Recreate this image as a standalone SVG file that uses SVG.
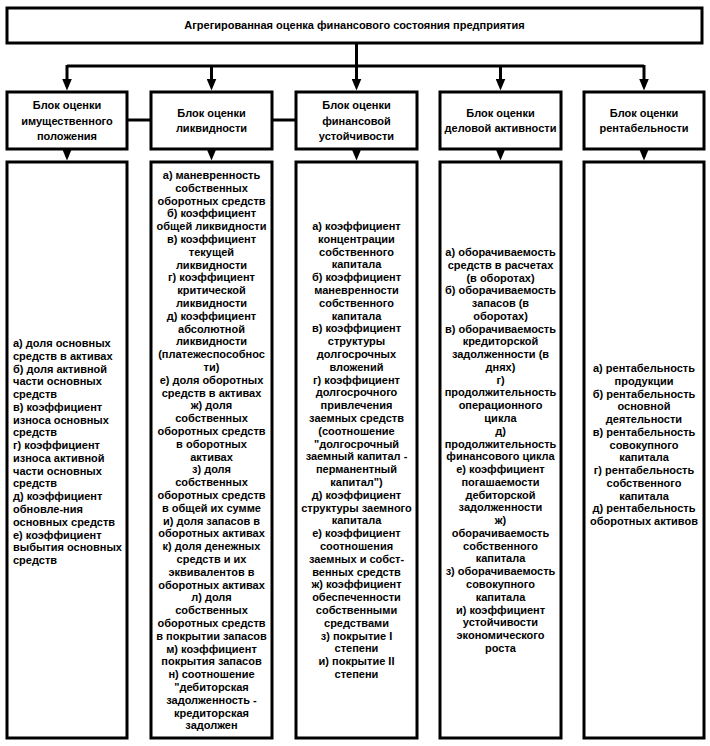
<svg xmlns="http://www.w3.org/2000/svg" width="710" height="746" viewBox="0 0 710 746">
<style>
.box{fill:#fff;stroke:#000;stroke-width:3}
.ln{fill:none;stroke:#000;stroke-width:3}
.t{font-family:"Liberation Sans",Arial,sans-serif;font-weight:bold;fill:#000}
.h{font-size:11px;text-anchor:middle}
.c{font-size:11px;text-anchor:middle}
.l{font-size:11px;text-anchor:start}
</style>
<defs>
<marker id="ah" markerUnits="userSpaceOnUse" viewBox="0 0 12 10" markerWidth="12" markerHeight="10" refX="8" refY="5" orient="auto">
<path d="M0,0 L12,5 L0,10 z" fill="#000"/>
</marker>
</defs>
<rect width="710" height="746" fill="#fff"/>
<g id="connectors">
<line class="ln" x1="356.5" y1="43" x2="356.5" y2="86.5" marker-end="url(#ah)"/>
<line class="ln" x1="67" y1="66" x2="644" y2="66"/>
<line class="ln" x1="67" y1="65" x2="67" y2="86.5" marker-end="url(#ah)"/>
<line class="ln" x1="211.5" y1="65" x2="211.5" y2="86.5" marker-end="url(#ah)"/>
<line class="ln" x1="500.5" y1="65" x2="500.5" y2="86.5" marker-end="url(#ah)"/>
<line class="ln" x1="644" y1="65" x2="644" y2="86.5" marker-end="url(#ah)"/>
<line class="ln" x1="127" y1="120" x2="151" y2="120"/>
<line class="ln" x1="272" y1="120" x2="296" y2="120"/>
<line class="ln" x1="67" y1="150" x2="67" y2="156.5" marker-end="url(#ah)"/>
<line class="ln" x1="211.5" y1="150" x2="211.5" y2="156.5" marker-end="url(#ah)"/>
<line class="ln" x1="356.5" y1="150" x2="356.5" y2="156.5" marker-end="url(#ah)"/>
<line class="ln" x1="500.5" y1="150" x2="500.5" y2="156.5" marker-end="url(#ah)"/>
<line class="ln" x1="644" y1="150" x2="644" y2="156.5" marker-end="url(#ah)"/>
</g>
<g id="top">
<rect class="box" x="7" y="8" width="695" height="35"/>
<text class="t h" x="354.5" y="29" font-size="10.5">Агрегированная оценка финансового состояния предприятия</text>
</g>
<g id="h1">
<rect class="box" x="7" y="92" width="120" height="57"/>
<text class="t h" x="67"><tspan x="67" y="109">Блок оценки</tspan><tspan x="67" y="124.5">имущественного</tspan><tspan x="67" y="140">положения</tspan></text>
</g>
<g id="h2">
<rect class="box" x="151" y="92" width="121" height="57"/>
<text class="t h"><tspan x="211.5" y="116.5">Блок оценки</tspan><tspan x="211.5" y="132">ликвидности</tspan></text>
</g>
<g id="h3">
<rect class="box" x="296" y="92" width="121" height="57"/>
<text class="t h"><tspan x="356.5" y="109">Блок оценки</tspan><tspan x="356.5" y="124.5">финансовой</tspan><tspan x="356.5" y="140">устойчивости</tspan></text>
</g>
<g id="h4">
<rect class="box" x="440" y="92" width="121" height="57"/>
<text class="t h"><tspan x="500.5" y="116.5">Блок оценки</tspan><tspan x="500.5" y="132">деловой активности</tspan></text>
</g>
<g id="h5">
<rect class="box" x="584" y="92" width="120" height="57"/>
<text class="t h"><tspan x="644" y="116.5">Блок оценки</tspan><tspan x="644" y="132">рентабельности</tspan></text>
</g>
<g id="c1">
<rect class="box" x="7" y="162" width="120" height="576"/>
<text class="t l" x="13" y="347"><tspan x="13">а) доля основных</tspan><tspan x="13" dy="12.77">средств в активах</tspan><tspan x="13" dy="12.77">б) доля активной</tspan><tspan x="13" dy="12.77">части основных</tspan><tspan x="13" dy="12.77">средств</tspan><tspan x="13" dy="12.77">в) коэффициент</tspan><tspan x="13" dy="12.77">износа основных</tspan><tspan x="13" dy="12.77">средств</tspan><tspan x="13" dy="12.77">г) коэффициент</tspan><tspan x="13" dy="12.77">износа активной</tspan><tspan x="13" dy="12.77">части основных</tspan><tspan x="13" dy="12.77">средств</tspan><tspan x="13" dy="12.77">д) коэффициент</tspan><tspan x="13" dy="12.77">обновле-ния</tspan><tspan x="13" dy="12.77">основных средств</tspan><tspan x="13" dy="12.77">е) коэффициент</tspan><tspan x="13" dy="12.77">выбытия основных</tspan><tspan x="13" dy="12.77">средств</tspan></text>
</g>
<g id="c2">
<rect class="box" x="151" y="162" width="121" height="576"/>
<text class="t c" x="211.5" y="179"><tspan x="211.5">а) маневренность</tspan><tspan x="211.5" dy="12.8">собственных</tspan><tspan x="211.5" dy="12.8">оборотных средств</tspan><tspan x="211.5" dy="12.8">б) коэффициент</tspan><tspan x="211.5" dy="12.8">общей ликвидности</tspan><tspan x="211.5" dy="12.8">в) коэффициент</tspan><tspan x="211.5" dy="12.8">текущей</tspan><tspan x="211.5" dy="12.8">ликвидности</tspan><tspan x="211.5" dy="12.8">г) коэффициент</tspan><tspan x="211.5" dy="12.8">критической</tspan><tspan x="211.5" dy="12.8">ликвидности</tspan><tspan x="211.5" dy="12.8">д) коэффициент</tspan><tspan x="211.5" dy="12.8">абсолютной</tspan><tspan x="211.5" dy="12.8">ликвидности</tspan><tspan x="211.5" dy="12.8">(платежеспособнос</tspan><tspan x="211.5" dy="12.8">ти)</tspan><tspan x="211.5" dy="12.8">е) доля оборотных</tspan><tspan x="211.5" dy="12.8">средств в активах</tspan><tspan x="211.5" dy="12.8">ж) доля</tspan><tspan x="211.5" dy="12.8">собственных</tspan><tspan x="211.5" dy="12.8">оборотных средств</tspan><tspan x="211.5" dy="12.8">в оборотных</tspan><tspan x="211.5" dy="12.8">активах</tspan><tspan x="211.5" dy="12.8">з) доля</tspan><tspan x="211.5" dy="12.8">собственных</tspan><tspan x="211.5" dy="12.8">оборотных средств</tspan><tspan x="211.5" dy="12.8">в общей их сумме</tspan><tspan x="211.5" dy="12.8">и) доля запасов в</tspan><tspan x="211.5" dy="12.8">оборотных активах</tspan><tspan x="211.5" dy="12.8">к) доля денежных</tspan><tspan x="211.5" dy="12.8">средств и их</tspan><tspan x="211.5" dy="12.8">эквивалентов в</tspan><tspan x="211.5" dy="12.8">оборотных активах</tspan><tspan x="211.5" dy="12.8">л) доля</tspan><tspan x="211.5" dy="12.8">собственных</tspan><tspan x="211.5" dy="12.8">оборотных средств</tspan><tspan x="211.5" dy="12.8">в покрытии запасов</tspan><tspan x="211.5" dy="12.8">м) коэффициент</tspan><tspan x="211.5" dy="12.8">покрытия запасов</tspan><tspan x="211.5" dy="12.8">н) соотношение</tspan><tspan x="211.5" dy="12.8">"дебиторская</tspan><tspan x="211.5" dy="12.8">задолженность -</tspan><tspan x="211.5" dy="12.8">кредиторская</tspan><tspan x="211.5" dy="12.8">задолжен</tspan></text>
</g>
<g id="c3">
<rect class="box" x="296" y="162" width="121" height="576"/>
<text class="t c" x="356.5" y="230"><tspan x="356.5">а) коэффициент</tspan><tspan x="356.5" dy="12.8">концентрации</tspan><tspan x="356.5" dy="12.8">собственного</tspan><tspan x="356.5" dy="12.8">капитала</tspan><tspan x="356.5" dy="12.8">б) коэффициент</tspan><tspan x="356.5" dy="12.8">маневренности</tspan><tspan x="356.5" dy="12.8">собственного</tspan><tspan x="356.5" dy="12.8">капитала</tspan><tspan x="356.5" dy="12.8">в) коэффициент</tspan><tspan x="356.5" dy="12.8">структуры</tspan><tspan x="356.5" dy="12.8">долгосрочных</tspan><tspan x="356.5" dy="12.8">вложений</tspan><tspan x="356.5" dy="12.8">г) коэффициент</tspan><tspan x="356.5" dy="12.8">долгосрочного</tspan><tspan x="356.5" dy="12.8">привлечения</tspan><tspan x="356.5" dy="12.8">заемных средств</tspan><tspan x="356.5" dy="12.8">(соотношение</tspan><tspan x="356.5" dy="12.8">"долгосрочный</tspan><tspan x="356.5" dy="12.8">заемный капитал -</tspan><tspan x="356.5" dy="12.8">перманентный</tspan><tspan x="356.5" dy="12.8">капитал")</tspan><tspan x="356.5" dy="12.8">д) коэффициент</tspan><tspan x="356.5" dy="12.8">структуры заемного</tspan><tspan x="356.5" dy="12.8">капитала</tspan><tspan x="356.5" dy="12.8">е) коэффициент</tspan><tspan x="356.5" dy="12.8">соотношения</tspan><tspan x="356.5" dy="12.8">заемных и собст-</tspan><tspan x="356.5" dy="12.8">венных средств</tspan><tspan x="356.5" dy="12.8">ж) коэффициент</tspan><tspan x="356.5" dy="12.8">обеспеченности</tspan><tspan x="356.5" dy="12.8">собственными</tspan><tspan x="356.5" dy="12.8">средствами</tspan><tspan x="356.5" dy="12.8">з) покрытие I</tspan><tspan x="356.5" dy="12.8">степени</tspan><tspan x="356.5" dy="12.8">и) покрытие II</tspan><tspan x="356.5" dy="12.8">степени</tspan></text>
</g>
<g id="c4">
<rect class="box" x="440" y="162" width="121" height="576"/>
<text class="t c" x="500.5" y="256"><tspan x="500.5">а) оборачиваемость</tspan><tspan x="500.5" dy="12.77">средств в расчетах</tspan><tspan x="500.5" dy="12.77">(в оборотах)</tspan><tspan x="500.5" dy="12.77">б) оборачиваемость</tspan><tspan x="500.5" dy="12.77">запасов (в</tspan><tspan x="500.5" dy="12.77">оборотах)</tspan><tspan x="500.5" dy="12.77">в) оборачиваемость</tspan><tspan x="500.5" dy="12.77">кредиторской</tspan><tspan x="500.5" dy="12.77">задолженности (в</tspan><tspan x="500.5" dy="12.77">днях)</tspan><tspan x="500.5" dy="12.77">г)</tspan><tspan x="500.5" dy="12.77">продолжительность</tspan><tspan x="500.5" dy="12.77">операционного</tspan><tspan x="500.5" dy="12.77">цикла</tspan><tspan x="500.5" dy="12.77">д)</tspan><tspan x="500.5" dy="12.77">продолжительность</tspan><tspan x="500.5" dy="12.77">финансового цикла</tspan><tspan x="500.5" dy="12.77">е) коэффициент</tspan><tspan x="500.5" dy="12.77">погашаемости</tspan><tspan x="500.5" dy="12.77">дебиторской</tspan><tspan x="500.5" dy="12.77">задолженности</tspan><tspan x="500.5" dy="12.77">ж)</tspan><tspan x="500.5" dy="12.77">оборачиваемость</tspan><tspan x="500.5" dy="12.77">собственного</tspan><tspan x="500.5" dy="12.77">капитала</tspan><tspan x="500.5" dy="12.77">з) оборачиваемость</tspan><tspan x="500.5" dy="12.77">совокупного</tspan><tspan x="500.5" dy="12.77">капитала</tspan><tspan x="500.5" dy="12.77">и) коэффициент</tspan><tspan x="500.5" dy="12.77">устойчивости</tspan><tspan x="500.5" dy="12.77">экономического</tspan><tspan x="500.5" dy="12.77">роста</tspan></text>
</g>
<g id="c5">
<rect class="box" x="584" y="162" width="120" height="576"/>
<text class="t c" x="644" y="372"><tspan x="644">а) рентабельность</tspan><tspan x="644" dy="12.77">продукции</tspan><tspan x="644" dy="12.77">б) рентабельность</tspan><tspan x="644" dy="12.77">основной</tspan><tspan x="644" dy="12.77">деятельности</tspan><tspan x="644" dy="12.77">в) рентабельность</tspan><tspan x="644" dy="12.77">совокупного</tspan><tspan x="644" dy="12.77">капитала</tspan><tspan x="644" dy="12.77">г) рентабельность</tspan><tspan x="644" dy="12.77">собственного</tspan><tspan x="644" dy="12.77">капитала</tspan><tspan x="644" dy="12.77">д) рентабельность</tspan><tspan x="644" dy="12.77">оборотных активов</tspan></text>
</g>
</svg>
